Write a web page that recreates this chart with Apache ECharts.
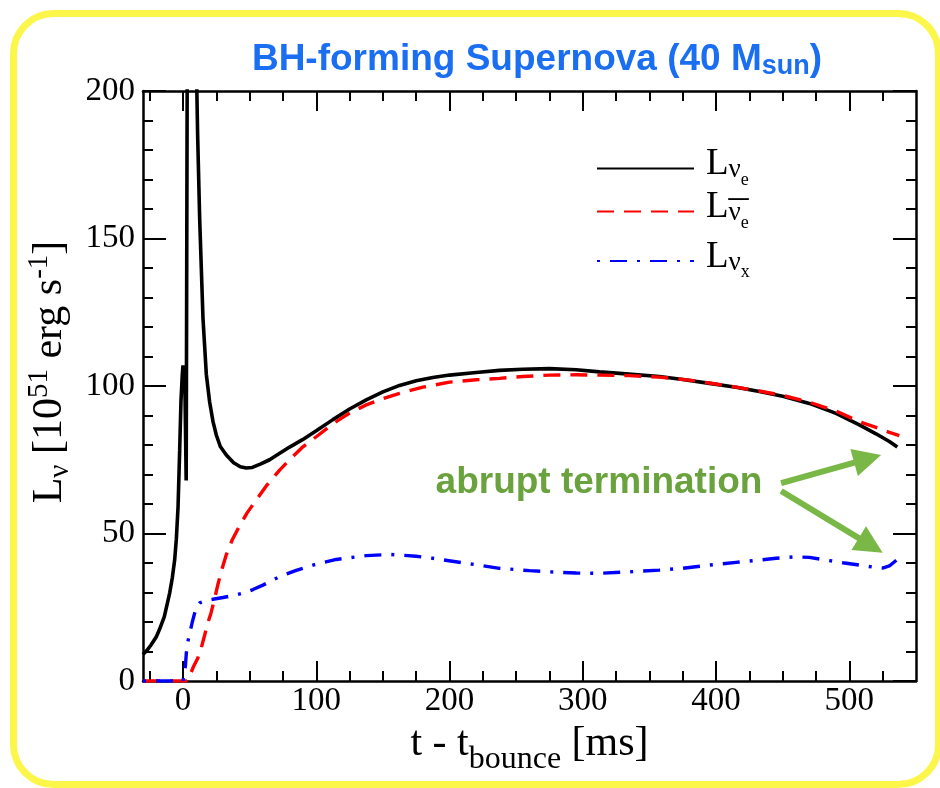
<!DOCTYPE html>
<html>
<head>
<meta charset="utf-8">
<script src="https://cdn.jsdelivr.net/npm/echarts@6/dist/echarts.min.js"></script>
<style>
  html, body { margin: 0; padding: 0; background: #ffffff; }
  #chart { width: 940px; height: 788px; }
</style>
</head>
<body>
<div id="chart"></div>
<script>
// Neutrino luminosities of a black-hole forming core collapse (40 Msun progenitor)
// time after bounce [ms]
const timeNuE = [-30, -27, -24, -20, -17.5, -14, -10, -8, -6.25, -5, -3.7, -2.5, -1.5, -0.5, 0, 0.6, 1.3, 2.4, 2.9, 3.3, 4.5,
  8, 10, 11, 12.5, 15, 17.5, 20, 22.5, 25, 28, 32.5, 38, 43, 47.5, 52, 58, 65, 72, 80, 90, 100, 112.5, 125, 137.5, 150,
  162.5, 175, 187.5, 200, 220, 237.5, 255, 275, 295, 312.5, 330, 357.5, 375, 395, 415, 432.5, 450, 470, 490, 507.5, 520, 530, 536];
const lumNuE = [9, 10.4, 12.2, 15, 17.6, 21.8, 29.8, 35, 41, 48, 59, 78, 95, 104, 107, 100, 105, 68, 68, 230, 400,
  300, 210, 185, 157, 123, 104, 94.6, 88, 83.4, 79.5, 76.6, 74, 72.6, 72.2, 72.4, 73.5, 75, 77, 79.3, 81.9, 84.8, 88.6, 92.2, 95.3, 98,
  100.2, 101.8, 102.9, 103.7, 104.6, 105.3, 105.7, 105.9, 105.5, 104.8, 104.2, 103.2, 102.2, 100.9, 99.6, 98.1, 96.5, 94.1, 90.7, 86.8, 83.8, 81.2, 79.3];

const timeAntiNuE = [-30, 3, 4.5, 6, 8, 11, 13.75, 16.25, 18.5, 21, 23.8, 26.25, 29, 32.5, 37, 42.5, 48, 55, 63, 72.5, 80, 90, 100,
  112.5, 125, 137.5, 150, 162.5, 180, 200, 220, 237.5, 255, 275, 295, 312.5, 335, 357.5, 380, 395, 415, 432.5, 450, 470, 490, 507.5, 520, 530, 537.5];
const lumAntiNuE = [0, 0, 1, 2.8, 5, 7.6, 11.3, 15.5, 19.5, 23, 28, 32.8, 37.6, 42.8, 47.9, 52.6, 56.9, 61.4, 66.4, 71.5, 75, 79.4, 82.8,
  87.2, 90.8, 93.6, 95.7, 97.5, 99.6, 101.3, 102.1, 102.6, 103.2, 103.7, 103.8, 103.7, 103.5, 103, 102, 101, 99.6, 98.3, 96.8, 94.5, 91.5, 87.9, 86, 84.3, 83.2];

const timeNuX = [-30, 0, 1, 1.8, 2.5, 3.5, 5, 7, 8.75, 10.5, 12.5, 17, 22.5, 30, 40, 47, 52.5, 60, 72.5, 85, 97.5, 115, 137.5, 155,
  175, 187.5, 212.5, 237.5, 260, 275, 295, 312.5, 335, 357.5, 375, 395, 415, 432.5, 445, 460, 470, 482.5, 495, 507.5, 518, 525, 530, 536];
const lumNuX = [0, 0, 0.5, 5, 9.4, 13, 16, 20, 23, 25.5, 26.5, 27.2, 27.7, 28.3, 29.2, 30, 31, 32.5, 35.4, 37.5, 39.3, 41.2, 42.5, 42.9,
  42.3, 41.6, 39.9, 38.2, 37.4, 37, 36.6, 36.5, 37, 37.6, 38.2, 39.3, 40.2, 41, 41.6, 42.1, 41.9, 41, 40.1, 39.3, 38.6, 38.3, 39, 41.2];

// axis ticks
const xMajorTicks = [0, 100, 200, 300, 400, 500];
const xMinorTicks = [-25, 25, 50, 75, 125, 150, 175, 225, 250, 275, 325, 350, 375, 425, 450, 475, 525];

// annotation: where the arrows start and end (data coordinates)
const arrowTail = [[448.8, 67.1], [448.8, 64.4]];
const arrowTip = [[523.8, 76.6], [525, 43.5]];

const pairs = (ts, ls) => ts.map((t, i) => [t, ls[i]]);

const SERIF = '"Liberation Serif", "DejaVu Serif", serif';
const SANS = '"Liberation Sans", Arial, sans-serif';
const GRID = { left: 143, right: 24, top: 91, bottom: 107 };

const frameLine = { show: true, onZero: false, lineStyle: { color: '#000', width: 2.5 } };
const noLine = { show: false, onZero: false };

function xAxisDef(position, ticks, len, extra) {
  return Object.assign({
    type: 'value', position: position, min: -30, max: 550,
    axisLine: noLine,
    axisTick: { show: true, inside: true, length: len, customValues: ticks, lineStyle: { color: '#000', width: 2 } },
    axisLabel: { show: false },
    splitLine: { show: false }
  }, extra || {});
}

// rich-text helpers: sub/superscripts are shifted by giving the token a box
// height and pinning it to the bottom / top of the line box
const serifTok = (size, extra) => Object.assign({ fontFamily: SERIF, fontSize: size, color: '#000' }, extra);

const chart = echarts.init(document.getElementById('chart'), null, { renderer: 'canvas' });

const option = {
  animation: false,
  backgroundColor: '#ffffff',
  title: {
    text: '{m|BH-forming Supernova (40 M}{s|sun}{m|)}',
    left: 532, top: 33, textAlign: 'center',
    textStyle: {
      rich: {
        m: { fontFamily: SANS, fontWeight: 'bold', fontSize: 37, color: '#1a6ef2', lineHeight: 44, verticalAlign: 'middle' },
        s: { fontFamily: SANS, fontWeight: 'bold', fontSize: 27, color: '#1a6ef2', height: 31, verticalAlign: 'bottom' }
      }
    }
  },
  grid: GRID,
  legend: {
    orient: 'vertical', left: 591, top: 141, itemWidth: 97, itemHeight: 14, itemGap: 0,
    data: ['nue', 'anue', 'nux'],
    itemStyle: { opacity: 0 },
    lineStyle: { opacity: 1 },
    formatter: function (name) {
      if (name === 'nue') return '{sp| }{L|L}{n|\u03bd}{e|e}';
      if (name === 'anue') return '{sp| }{L|L}{bar|\u00af}{n|\u03bd}{e|e}';
      return '{sp| }{L|L}{n|\u03bd}{e|x}';
    },
    textStyle: {
      fontFamily: SERIF, color: '#000',
      rich: {
        sp: serifTok(10, { width: 7, height: 46, verticalAlign: 'middle' }),
        L: serifTok(37, { height: 38, verticalAlign: 'top' }),
        bar: serifTok(40, { width: 0, height: 32, verticalAlign: 'bottom' }),
        n: serifTok(27, { height: 43, verticalAlign: 'bottom' }),
        e: serifTok(18, { height: 23, verticalAlign: 'bottom' })
      }
    }
  },
  xAxis: [
    xAxisDef('bottom', xMajorTicks, 20, {
      axisLine: frameLine,
      axisLabel: { show: true, customValues: xMajorTicks, margin: 4, fontFamily: SERIF, fontSize: 33, color: '#000' },
      name: '{a|t - t}{b|bounce}{a| [ms]}',
      nameLocation: 'middle', nameGap: 32,
      nameTextStyle: {
        rich: {
          a: serifTok(42, { lineHeight: 60, verticalAlign: 'middle' }),
          b: serifTok(32, { height: 29, verticalAlign: 'bottom' })
        }
      }
    }),
    xAxisDef('bottom', xMinorTicks, 10),
    xAxisDef('top', xMajorTicks, 20, { axisLine: frameLine }),
    xAxisDef('top', xMinorTicks, 10)
  ],
  yAxis: [
    {
      type: 'value', position: 'left', min: 0, max: 200, interval: 50,
      axisLine: frameLine,
      axisTick: { show: true, inside: true, length: 23, lineStyle: { color: '#000', width: 2 } },
      minorTick: { show: true, splitNumber: 5, length: 10, lineStyle: { color: '#000', width: 2 } },
      axisLabel: { margin: 8, fontFamily: SERIF, fontSize: 33, color: '#000' },
      splitLine: { show: false },
      name: '{sp| }{a|L}{b|\u03bd}{a| [10}{c|51}{a| erg s}{c|-1}{a|]}',
      nameLocation: 'middle', nameGap: 56,
      nameTextStyle: {
        rich: {
          sp: serifTok(10, { width: 28, verticalAlign: 'middle' }),
          a: serifTok(42, { lineHeight: 60, verticalAlign: 'middle' }),
          b: serifTok(29, { height: 40, verticalAlign: 'bottom' }),
          c: serifTok(29, { height: 39, verticalAlign: 'top' })
        }
      }
    },
    {
      type: 'value', position: 'right', min: 0, max: 200, interval: 50,
      axisLine: frameLine,
      axisTick: { show: true, inside: true, length: 23, lineStyle: { color: '#000', width: 2 } },
      minorTick: { show: true, splitNumber: 5, length: 10, lineStyle: { color: '#000', width: 2 } },
      axisLabel: { show: false },
      splitLine: { show: false }
    }
  ],
  series: [
    {
      name: 'nue', type: 'line', data: pairs(timeNuE, lumNuE),
      showSymbol: false, symbol: 'none', clip: true,
      lineStyle: { color: '#000000', width: 3.6 }, itemStyle: { color: '#000000' }, z: 3
    },
    {
      name: 'anue', type: 'line', data: pairs(timeAntiNuE, lumAntiNuE),
      showSymbol: false, symbol: 'none', clip: true,
      lineStyle: { color: '#ff0000', width: 3.4, type: [17, 10] }, itemStyle: { color: '#ff0000' }, z: 4
    },
    {
      name: 'nux', type: 'line', data: pairs(timeNuX, lumNuX),
      showSymbol: false, symbol: 'none', clip: true,
      lineStyle: { color: '#0000ff', width: 3.4, type: [3, 10, 17, 10] }, itemStyle: { color: '#0000ff' }, z: 4
    }
  ]
};

chart.setOption(option);

// Annotation: rounded frame, label and arrows pointing at the last points
function arrowShapes(tail, tip, color) {
  const p0 = chart.convertToPixel({ gridIndex: 0 }, tail);
  const p1 = chart.convertToPixel({ gridIndex: 0 }, tip);
  const dx = p1[0] - p0[0], dy = p1[1] - p0[1];
  const len = Math.sqrt(dx * dx + dy * dy);
  const ux = dx / len, uy = dy / len;
  const headLen = 28, headHalf = 14;
  const bx = p1[0] - ux * headLen, by = p1[1] - uy * headLen;
  return [
    { type: 'line', shape: { x1: p0[0], y1: p0[1], x2: bx + ux * 2, y2: by + uy * 2 },
      style: { stroke: color, lineWidth: 6 }, z: 10 },
    { type: 'polygon', shape: { points: [[p1[0], p1[1]], [bx - uy * headHalf, by + ux * headHalf], [bx + uy * headHalf, by - ux * headHalf]] },
      style: { fill: color }, z: 10 }
  ];
}

const GREEN_TEXT = '#6aa23e';
const GREEN_ARROW = '#79b846';
let elements = [
  { type: 'rect', shape: { x: 13.5, y: 13.5, width: 925, height: 771, r: 40 },
    style: { fill: null, stroke: '#fdf64a', lineWidth: 7 }, z: 0, silent: true },
  { type: 'text', x: 599, y: 483, z: 10,
    style: { text: 'abrupt termination', fill: GREEN_TEXT, font: 'bold 37px ' + SANS, textAlign: 'center', textVerticalAlign: 'middle' } }
];
for (let i = 0; i < arrowTail.length; i++) {
  elements = elements.concat(arrowShapes(arrowTail[i], arrowTip[i], GREEN_ARROW));
}
chart.setOption({ graphic: elements });
</script>
</body>
</html>
